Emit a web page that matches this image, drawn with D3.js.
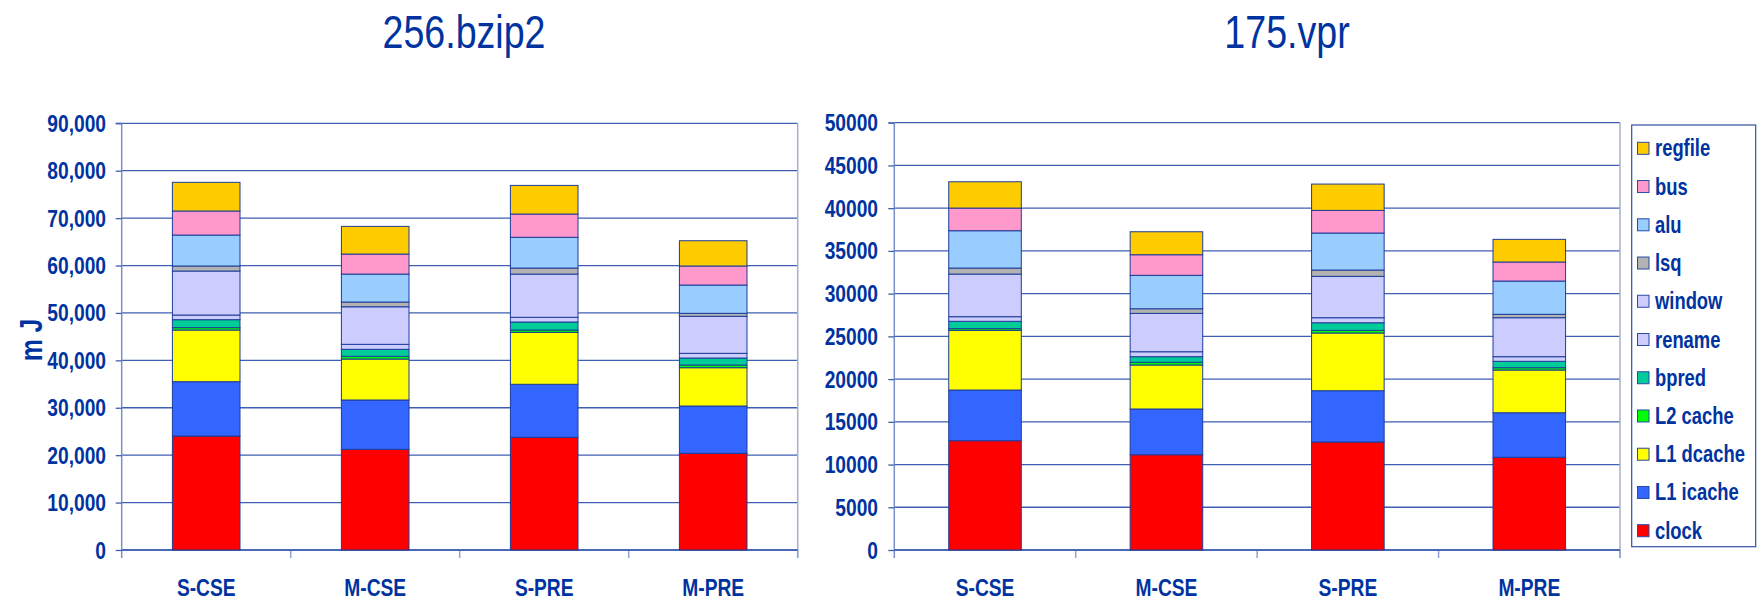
<!DOCTYPE html>
<html>
<head>
<meta charset="utf-8">
<script src="https://cdn.jsdelivr.net/npm/d3@7"></script>
<style>
  html, body { margin: 0; padding: 0; background: #fff; }
  svg { display: block; }
  text { font-family: "Liberation Sans", Arial, sans-serif; fill: #0033A0; }
</style>
</head>
<body>
<svg id="chart" width="1763" height="603"></svg>
<script>
// ---------- data ----------
const categories = ["S-CSE", "M-CSE", "S-PRE", "M-PRE"];
const seriesNames = ["clock", "L1 icache", "L1 dcache", "L2 cache", "bpred", "rename", "window", "lsq", "alu", "bus", "regfile"];
const seriesColors = ["#FF0000", "#3366FF", "#FFFF00", "#00FF00", "#00CC99", "#CCCCFF", "#CCCCFF", "#B2B2B2", "#99CCFF", "#FF99CC", "#FFCC00"];

// 256.bzip2, values per bar in series order (mJ)
const bzip2_SCSE = [24040, 11460, 10900, 500, 1680, 980, 9280, 1060, 6530, 5070, 6050];
const bzip2_MCSE = [21240, 10400, 8640, 570, 1480, 1050, 7920, 1000, 5900, 4220, 5840];
const bzip2_SPRE = [23770, 11180, 10960, 490, 1690, 990, 9120, 1270, 6480, 4910, 6040];
const bzip2_MPRE = [20390, 9980, 8080, 570, 1470, 990, 7810, 630, 5970, 4010, 5330];

// 175.vpr
const vpr_SCSE = [12790, 5930, 6980, 200, 860, 540, 4990, 700, 4370, 2650, 3080];
const vpr_MCSE = [11150, 5350, 5150, 310, 660, 580, 4490, 540, 3910, 2410, 2690];
const vpr_SPRE = [12640, 6000, 6750, 310, 890, 590, 4840, 740, 4330, 2650, 3080];
const vpr_MPRE = [10850, 5210, 5000, 270, 750, 540, 4560, 400, 3890, 2230, 2650];

const bzip2Ticks = [0, 10000, 20000, 30000, 40000, 50000, 60000, 70000, 80000, 90000];
const vprTicks = [0, 5000, 10000, 15000, 20000, 25000, 30000, 35000, 40000, 45000, 50000];

// ---------- drawing ----------
const svg = d3.select("#chart");
const TXT = "#0033A0";
const NARROW = 0.8;

function narrowText(g, x, y, str, opts) {
  const t = g.append("g").attr("transform", `translate(${x},${y}) ${opts.rotate ? "rotate(" + opts.rotate + ")" : ""} scale(${NARROW},1)`)
    .append("text")
    .attr("text-anchor", opts.anchor || "start")
    .attr("font-size", opts.size)
    .attr("font-weight", opts.weight || "bold")
    .style("fill", TXT)
    .text(str);
  return t;
}

function drawChart(cfg) {
  const g = svg.append("g");
  const rows = categories.map((c, i) => {
    const r = { cat: c };
    seriesNames.forEach((s, j) => r[s] = cfg.bars[i][j]);
    return r;
  });
  const stack = d3.stack().keys(seriesNames)(rows);

  const x = d3.scaleBand().domain(categories).range([cfg.x0, cfg.x1]).paddingInner(0.6).paddingOuter(0.3);
  const y = d3.scaleLinear().domain([0, cfg.max]).range([cfg.yb, cfg.yt]);

  // gridlines
  g.append("g").selectAll("line").data(cfg.ticks).join("line")
    .attr("x1", cfg.x0).attr("x2", cfg.x1)
    .attr("y1", d => y(d)).attr("y2", d => y(d))
    .attr("stroke", "#3F5FB2").attr("stroke-width", 1.3);

  // right border of plot area
  g.append("line").attr("x1", cfg.x1).attr("x2", cfg.x1).attr("y1", cfg.yt).attr("y2", cfg.yb + 8)
    .attr("stroke", "#A8B0C8").attr("stroke-width", 1.5);

  // y axis
  const yAxis = d3.axisLeft(y).tickValues(cfg.ticks).tickSize(6).tickFormat("");
  const ya = g.append("g").attr("transform", `translate(${cfg.x0},0)`).call(yAxis);
  ya.select(".domain").attr("stroke", "#7A90C8").attr("stroke-width", 1.5)
    .attr("d", `M-6,${cfg.yt}H0V${cfg.yb + 8}`);
  ya.selectAll(".tick line").attr("stroke", "#3F5FB2").attr("stroke-width", 1.3);
  cfg.ticks.forEach(t => narrowText(g, cfg.labelX, y(t) + 8.5, cfg.fmt(t), { anchor: "end", size: 24 }));

  // x axis
  const bounds = d3.range(categories.length + 1).map(i => cfg.x0 + i * x.step());
  g.append("g").selectAll("line").data(bounds.slice(1)).join("line")
    .attr("x1", d => d).attr("x2", d => d).attr("y1", cfg.yb).attr("y2", cfg.yb + 8)
    .attr("stroke", "#8FA3D6").attr("stroke-width", 1.5);
  g.append("line").attr("x1", cfg.x0).attr("x2", cfg.x1).attr("y1", cfg.yb).attr("y2", cfg.yb)
    .attr("stroke", "#4A68B5").attr("stroke-width", 2);
  categories.forEach(c => narrowText(g, x(c) + x.bandwidth() / 2, 596, c, { anchor: "middle", size: 24 }));

  // bars
  stack.forEach((layer, j) => {
    g.append("g").selectAll("rect").data(layer).join("rect")
      .attr("x", d => x(d.data.cat))
      .attr("width", x.bandwidth())
      .attr("y", d => y(d[1]))
      .attr("height", d => y(d[0]) - y(d[1]))
      .attr("fill", seriesColors[j])
      .attr("stroke", "#1E3C9A").attr("stroke-width", 1);
  });

  // title
  narrowText(g, cfg.titleX, 48, cfg.title, { anchor: "middle", size: 47, weight: "normal" });
}

const fmtComma = d3.format(",");
drawChart({
  title: "256.bzip2", titleX: 464,
  x0: 121.7, x1: 797.7, yb: 550, yt: 123.3, max: 90000,
  ticks: bzip2Ticks, fmt: d => fmtComma(d), labelX: 106,
  bars: [bzip2_SCSE, bzip2_MCSE, bzip2_SPRE, bzip2_MPRE]
});
drawChart({
  title: "175.vpr", titleX: 1287,
  x0: 894.3, x1: 1620, yb: 550, yt: 122.7, max: 50000,
  ticks: vprTicks, fmt: d => String(d), labelX: 878,
  bars: [vpr_SCSE, vpr_MCSE, vpr_SPRE, vpr_MPRE]
});

// y-axis title
narrowText(svg, 42, 340, "m J", { anchor: "middle", size: 31, rotate: -90 });

// legend
const lg = svg.append("g");
lg.append("rect").attr("x", 1631.7).attr("y", 125).attr("width", 124).attr("height", 421.7)
  .attr("fill", "#fff").attr("stroke", "#3050A0").attr("stroke-width", 1.2);
const legendOrder = seriesNames.slice().reverse();
const ly = d3.scalePoint().domain(legendOrder).range([148.3, 530.7]);
legendOrder.forEach(s => {
  const idx = seriesNames.indexOf(s);
  lg.append("rect").attr("x", 1637.5).attr("y", ly(s) - 6).attr("width", 11.5).attr("height", 12)
    .attr("fill", seriesColors[idx]).attr("stroke", "#2A4AA6").attr("stroke-width", 1);
  narrowText(lg, 1655, ly(s) + 8, s, { anchor: "start", size: 23 });
});
</script>
</body>
</html>
